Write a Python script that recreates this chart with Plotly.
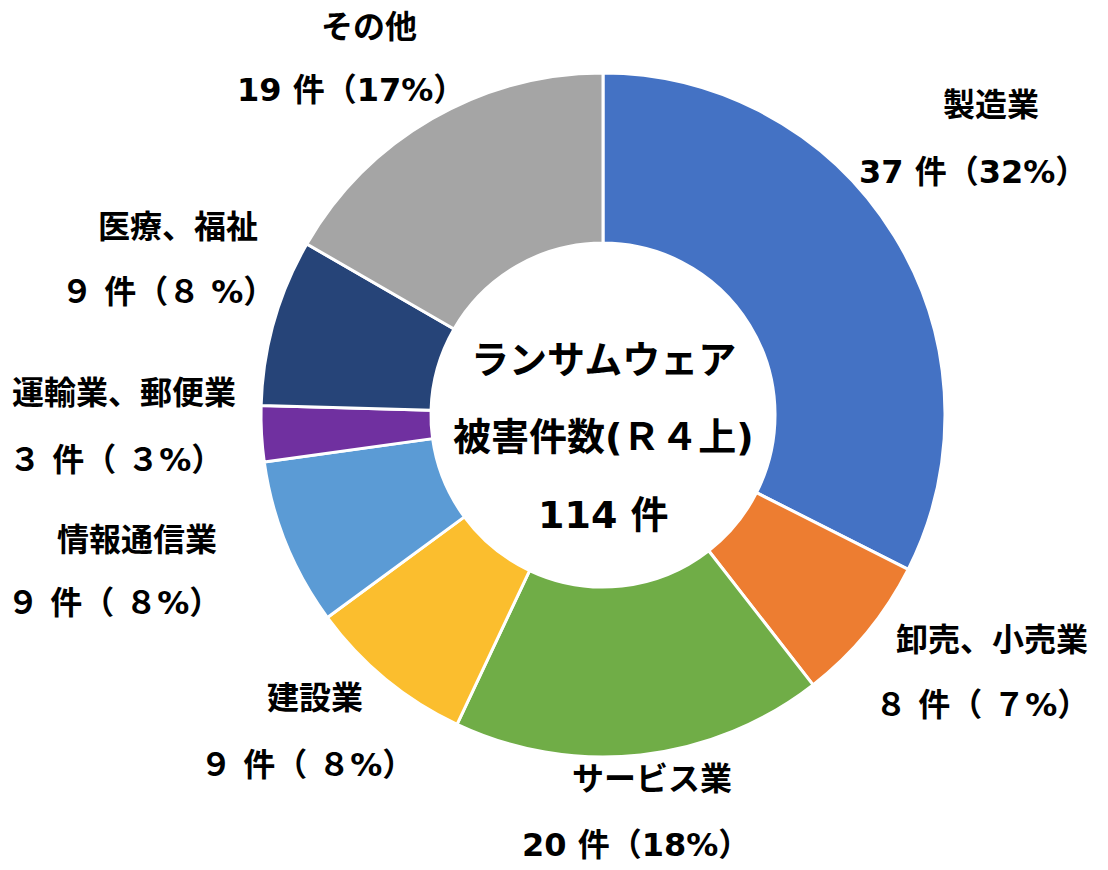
import plotly.graph_objects as go

# data
industries = ["製造業", "卸売、小売業", "サービス業", "建設業",
              "情報通信業", "運輸業、郵便業", "医療、福祉", "その他"]
counts = [37, 8, 20, 9, 9, 3, 9, 19]
value_labels = ["37 件（32%）", "８ 件（ ７%）", "20 件（18%）", "９ 件（ ８%）",
                "９ 件（ ８%）", "３ 件（ ３%）", "９ 件（８ %）", "19 件（17%）"]
colors = ["#4472C4", "#ED7D31", "#70AD47", "#FBBE2E",
          "#5B9BD5", "#7030A0", "#264478", "#A5A5A5"]

center_lines = ["ランサムウェア", "被害件数(Ｒ４上)", "114 件"]

# label centres in pixels (name line, value line)
name_pos = [(991, 105), (992, 640), (652, 779), (315, 698),
            (137, 540), (124, 393), (178, 227), (369, 27)]
value_pos = [(973, 172), (982, 705), (636, 845), (307, 765),
             (114, 603), (116, 460), (168, 292), (351, 90)]

W, H = 1108, 870
FONT = "DejaVu Sans, Noto Sans CJK JP, sans-serif"

fig = go.Figure(go.Pie(
    labels=industries,
    values=counts,
    hole=0.503,
    sort=False,
    direction="clockwise",
    rotation=0,
    textinfo="none",
    hoverinfo="label+value+percent",
    marker=dict(colors=colors, line=dict(color="white", width=3)),
    domain=dict(x=[(603 - 342) / W, (603 + 342) / W],
                y=[1 - 757 / H, 1 - 73 / H]),
    showlegend=False,
))

annotations = []
for name, val, (nx, ny), (vx, vy) in zip(industries, value_labels, name_pos, value_pos):
    annotations.append(dict(x=nx / W, y=1 - ny / H, text=f"<b>{name}</b>",
                            showarrow=False, xref="paper", yref="paper",
                            xanchor="center", yanchor="middle",
                            font=dict(size=32, color="black", family=FONT)))
    annotations.append(dict(x=vx / W, y=1 - vy / H, text=f"<b>{val}</b>",
                            showarrow=False, xref="paper", yref="paper",
                            xanchor="center", yanchor="middle",
                            font=dict(size=32, color="black", family=FONT)))

for line, py in zip(center_lines, [360, 437, 515]):
    annotations.append(dict(x=603 / W, y=1 - py / H, text=f"<b>{line}</b>",
                            showarrow=False, xref="paper", yref="paper",
                            xanchor="center", yanchor="middle",
                            font=dict(size=38, color="black", family=FONT)))

fig.update_layout(
    width=W, height=H,
    margin=dict(l=0, r=0, t=0, b=0),
    paper_bgcolor="white",
    plot_bgcolor="white",
    annotations=annotations,
)

# drop the default page margin so the figure sits at the window corner
fig.write_html("out.html", config={"displayModeBar": False},
               post_script="document.body.style.margin='0';")
